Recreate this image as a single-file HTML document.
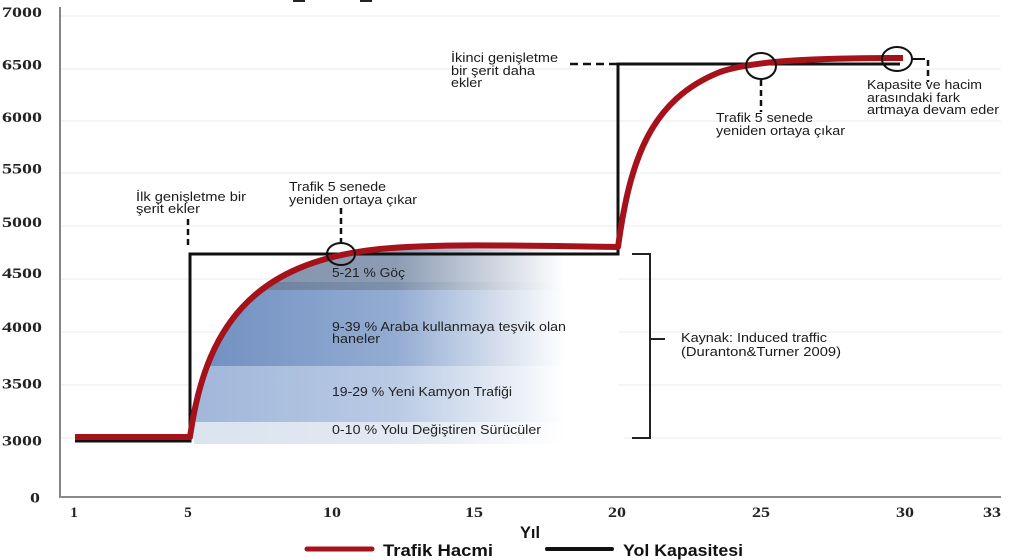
<!DOCTYPE html>
<html><head><meta charset="utf-8"><style>
html,body{margin:0;padding:0;background:#fff;}
svg{display:block;}
.yl{font-family:"Liberation Serif",serif;font-weight:bold;font-size:15px;fill:#222;}
.an{font-family:"Liberation Sans",sans-serif;font-size:12.5px;fill:#1a1a1a;}
.bd{font-family:"Liberation Sans",sans-serif;font-size:12.5px;fill:#222;}
.lg{font-family:"Liberation Sans",sans-serif;font-weight:bold;font-size:17px;fill:#111;}
</style></head><body>
<svg width="1024" height="560" viewBox="0 0 1024 560" xmlns="http://www.w3.org/2000/svg">
<defs>
<linearGradient id="g1" x1="190" y1="0" x2="565" y2="0" gradientUnits="userSpaceOnUse">
<stop offset="0" stop-color="#7f91ab"/><stop offset="0.55" stop-color="#8c9cb4"/><stop offset="1" stop-color="#ffffff"/></linearGradient>
<linearGradient id="g1b" x1="190" y1="0" x2="565" y2="0" gradientUnits="userSpaceOnUse">
<stop offset="0" stop-color="#647a99"/><stop offset="0.55" stop-color="#7f91ab"/><stop offset="1" stop-color="#ffffff"/></linearGradient>
<linearGradient id="g2" x1="190" y1="0" x2="565" y2="0" gradientUnits="userSpaceOnUse">
<stop offset="0" stop-color="#6f8ec0"/><stop offset="0.55" stop-color="#93acd2"/><stop offset="1" stop-color="#ffffff"/></linearGradient>
<linearGradient id="g3" x1="190" y1="0" x2="565" y2="0" gradientUnits="userSpaceOnUse">
<stop offset="0" stop-color="#a0b7da"/><stop offset="0.55" stop-color="#b9cae4"/><stop offset="1" stop-color="#ffffff"/></linearGradient>
<linearGradient id="g4" x1="190" y1="0" x2="565" y2="0" gradientUnits="userSpaceOnUse">
<stop offset="0" stop-color="#dbe3ef"/><stop offset="0.6" stop-color="#e4eaf3"/><stop offset="1" stop-color="#ffffff"/></linearGradient>
<clipPath id="cl">
<path d="M190,446 L190,437 C205,330 250,262 380,249 C430,244 500,245 618,247 L618,446 Z"/>
</clipPath>
</defs>

<!-- top artifacts -->
<rect x="293" y="0" width="12" height="2" fill="#222"/>
<rect x="360" y="0" width="12" height="2" fill="#222"/>

<!-- gridlines -->
<g stroke="#eef0f0" stroke-width="1.2">
<line x1="61" y1="16" x2="1001" y2="16"/>
<line x1="61" y1="69" x2="1001" y2="69"/>
<line x1="61" y1="121" x2="1001" y2="121"/>
<line x1="61" y1="173" x2="1001" y2="173"/>
<line x1="61" y1="226" x2="1001" y2="226"/>
<line x1="61" y1="279" x2="1001" y2="279"/>
<line x1="61" y1="332" x2="1001" y2="332"/>
<line x1="61" y1="385" x2="1001" y2="385"/>
<line x1="61" y1="438" x2="1001" y2="438"/>
</g>

<!-- bands -->
<g clip-path="url(#cl)">
<rect x="185" y="240" width="440" height="42" fill="url(#g1)"/>
<rect x="185" y="282" width="440" height="8" fill="url(#g1b)"/>
<rect x="185" y="290" width="440" height="76" fill="url(#g2)"/>
<rect x="185" y="366" width="440" height="56" fill="url(#g3)"/>
</g>
<rect x="194" y="422" width="430" height="22" fill="url(#g4)"/>

<!-- axes -->
<line x1="60" y1="7" x2="60" y2="497" stroke="#858585" stroke-width="2"/>
<line x1="59" y1="497" x2="1001" y2="497" stroke="#8a8a8a" stroke-width="2"/>

<!-- y labels -->
<g class="yl" text-anchor="end">
<text x="42" y="17" textLength="40" lengthAdjust="spacingAndGlyphs">7000</text>
<text x="42" y="69.5" textLength="40" lengthAdjust="spacingAndGlyphs">6500</text>
<text x="42" y="122" textLength="40" lengthAdjust="spacingAndGlyphs">6000</text>
<text x="42" y="173.5" textLength="40" lengthAdjust="spacingAndGlyphs">5500</text>
<text x="42" y="227" textLength="40" lengthAdjust="spacingAndGlyphs">5000</text>
<text x="42" y="278" textLength="40" lengthAdjust="spacingAndGlyphs">4500</text>
<text x="42" y="332" textLength="40" lengthAdjust="spacingAndGlyphs">4000</text>
<text x="42" y="388.5" textLength="40" lengthAdjust="spacingAndGlyphs">3500</text>
<text x="42" y="445.5" textLength="40" lengthAdjust="spacingAndGlyphs">3000</text>
<text x="40" y="502.5" textLength="10" lengthAdjust="spacingAndGlyphs">0</text>
</g>
<!-- x labels -->
<g class="yl" text-anchor="middle">
<text x="74" y="517">1</text>
<text x="188" y="517">5</text>
<text x="332" y="517" textLength="18" lengthAdjust="spacingAndGlyphs">10</text>
<text x="474" y="517" textLength="18" lengthAdjust="spacingAndGlyphs">15</text>
<text x="617" y="517" textLength="18" lengthAdjust="spacingAndGlyphs">20</text>
<text x="761" y="517" textLength="18" lengthAdjust="spacingAndGlyphs">25</text>
<text x="905" y="517" textLength="18" lengthAdjust="spacingAndGlyphs">30</text>
<text x="992" y="517" textLength="18" lengthAdjust="spacingAndGlyphs">33</text>
</g>

<!-- capacity line -->
<path d="M75,441 L190,441 L190,254 L618,254 L618,64 L900,64" fill="none" stroke="#111" stroke-width="3"/>

<!-- traffic curve -->
<path d="M75,437 L190,437 C205,330 250,262 380,249 C430,244 500,245 618,247 C630,160 650,100 720,72 C755,60 820,58 903,58" fill="none" stroke="#a5121a" stroke-width="6" stroke-linejoin="round"/>

<!-- dashed leaders -->
<g stroke="#111" stroke-width="2.5" fill="none">
<line x1="188" y1="219" x2="188" y2="247" stroke-dasharray="6,4"/>
<line x1="341" y1="208" x2="341" y2="243" stroke-dasharray="6,4"/>
<line x1="570" y1="64" x2="617" y2="64" stroke-dasharray="8,5"/>
<line x1="761" y1="80" x2="761" y2="112" stroke-dasharray="6,4"/>
<line x1="911" y1="59" x2="925" y2="59" stroke-width="2"/>
<line x1="928" y1="60" x2="928" y2="82" stroke-dasharray="6,4"/>
</g>
<!-- rings -->
<g fill="none" stroke="#111" stroke-width="2">
<ellipse cx="341" cy="254" rx="14" ry="11"/>
<ellipse cx="761" cy="66" rx="15" ry="13"/>
<ellipse cx="897" cy="59" rx="15" ry="12"/>
</g>

<!-- bracket -->
<path d="M632,254 L650,254 L650,438 L632,438 M650,339 L665,339" fill="none" stroke="#222" stroke-width="2"/>

<!-- annotations -->
<g class="an">
<text x="136" y="201" textLength="110" lengthAdjust="spacingAndGlyphs">İlk genişletme bir</text>
<text x="136" y="213" textLength="64" lengthAdjust="spacingAndGlyphs">şerit ekler</text>
<text x="289" y="191" textLength="97" lengthAdjust="spacingAndGlyphs">Trafik 5 senede</text>
<text x="289" y="204" textLength="128" lengthAdjust="spacingAndGlyphs">yeniden ortaya çıkar</text>
<text x="451" y="62" textLength="107" lengthAdjust="spacingAndGlyphs">İkinci genişletme</text>
<text x="451" y="75" textLength="84" lengthAdjust="spacingAndGlyphs">bir şerit daha</text>
<text x="451" y="87" textLength="31" lengthAdjust="spacingAndGlyphs">ekler</text>
<text x="716" y="122" textLength="97" lengthAdjust="spacingAndGlyphs">Trafik 5 senede</text>
<text x="716" y="135" textLength="129" lengthAdjust="spacingAndGlyphs">yeniden ortaya çıkar</text>
<text x="867" y="89" textLength="115" lengthAdjust="spacingAndGlyphs">Kapasite ve hacim</text>
<text x="867" y="102" textLength="93" lengthAdjust="spacingAndGlyphs">arasındaki fark</text>
<text x="867" y="114" textLength="132" lengthAdjust="spacingAndGlyphs">artmaya devam eder</text>
<text x="681" y="342" textLength="146" lengthAdjust="spacingAndGlyphs">Kaynak: Induced traffic</text>
<text x="681" y="356" textLength="160" lengthAdjust="spacingAndGlyphs">(Duranton&amp;Turner 2009)</text>
</g>
<g class="bd">
<text x="332" y="277" textLength="73" lengthAdjust="spacingAndGlyphs">5-21 % Göç</text>
<text x="332" y="331" textLength="234" lengthAdjust="spacingAndGlyphs">9-39 % Araba kullanmaya teşvik olan</text>
<text x="332" y="343" textLength="48" lengthAdjust="spacingAndGlyphs">haneler</text>
<text x="332" y="396" textLength="180" lengthAdjust="spacingAndGlyphs">19-29 % Yeni Kamyon Trafiği</text>
<text x="332" y="434" textLength="209" lengthAdjust="spacingAndGlyphs">0-10 % Yolu Değiştiren Sürücüler</text>
</g>

<!-- axis title & legend -->
<text class="lg" x="520" y="538" textLength="20" lengthAdjust="spacingAndGlyphs">Yıl</text>
<line x1="307" y1="549" x2="372" y2="549" stroke="#a5121a" stroke-width="5" stroke-linecap="round"/>
<text class="lg" x="383" y="556" textLength="110" lengthAdjust="spacingAndGlyphs">Trafik Hacmi</text>
<line x1="547" y1="549" x2="612" y2="549" stroke="#111" stroke-width="4" stroke-linecap="round"/>
<text class="lg" x="623" y="556" textLength="120" lengthAdjust="spacingAndGlyphs">Yol Kapasitesi</text>
</svg>
</body></html>
